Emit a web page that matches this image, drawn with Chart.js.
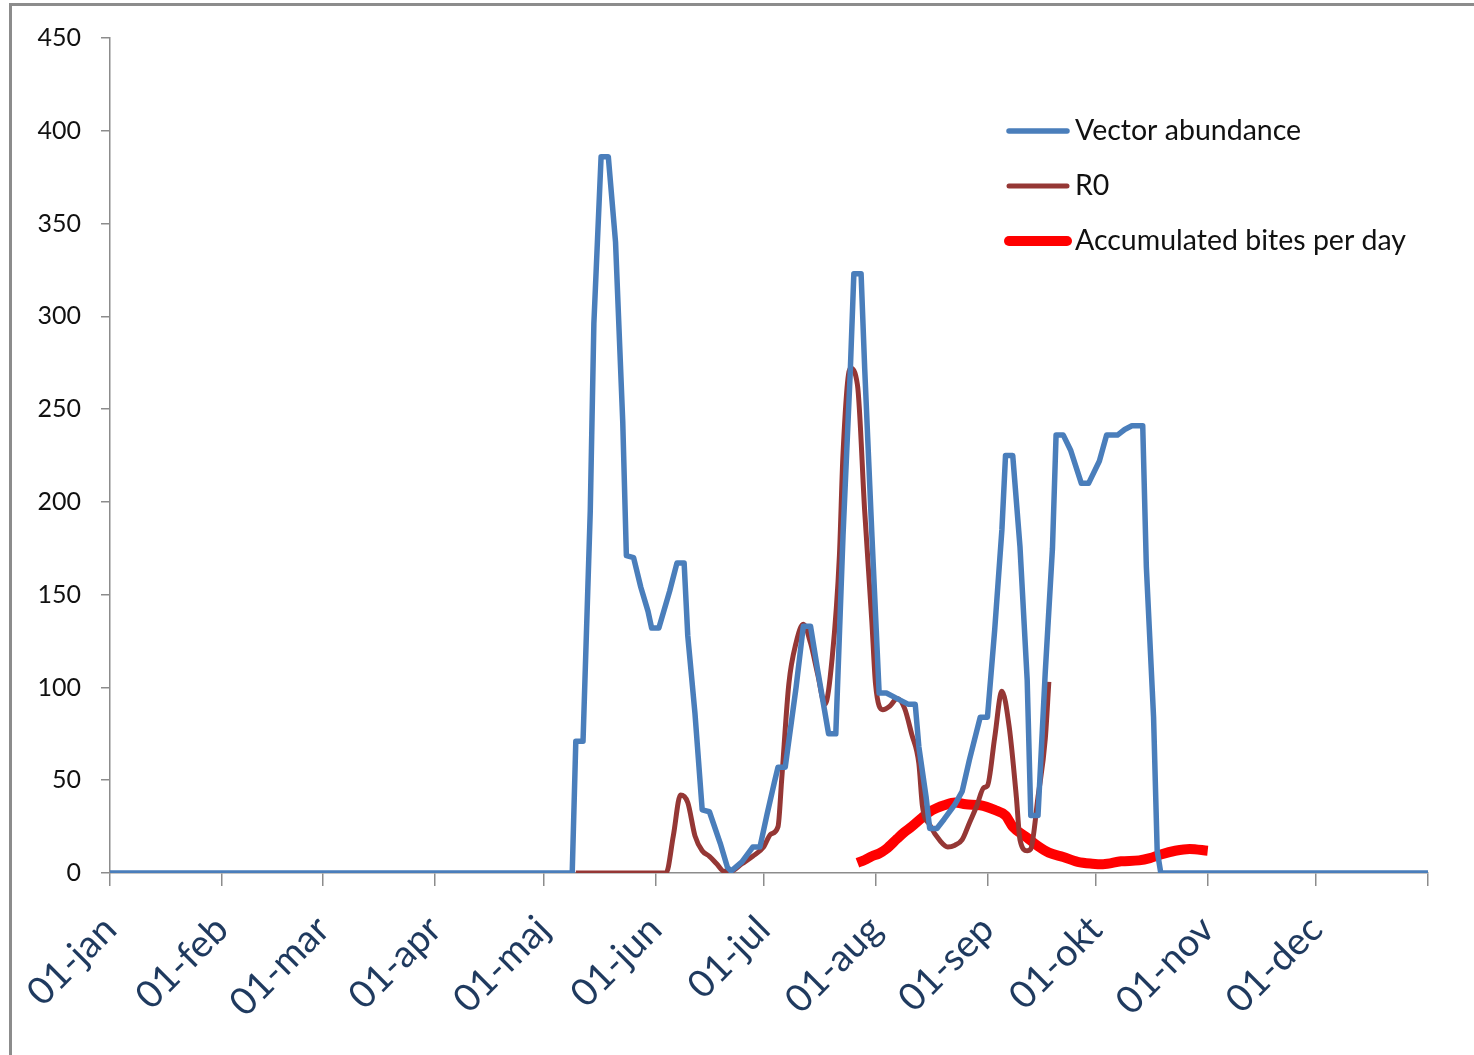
<!DOCTYPE html>
<html>
<head>
<meta charset="utf-8">
<script src="https://cdn.jsdelivr.net/npm/chart.js@4.4.1/dist/chart.umd.min.js"></script>
<style>
    html, body { margin: 0; padding: 0; background: #fff; overflow: hidden; }
    #ramme { position: absolute; left: 9px; top: 3px; width: 1490px; height: 1080px; border: 3px solid #8c8c8c; box-sizing: border-box; }
    #graf { position: absolute; left: 0; top: 0; }
</style>
</head>
<body>
<div id="ramme"></div>
<canvas id="graf" width="1474" height="1055"></canvas>
<script>
// x = day of year (0 = 01-jan)
const maanedStart = [0, 31, 59, 90, 120, 151, 181, 212, 243, 273, 304, 334, 365];
const maanedNavne = ['01-jan', '01-feb', '01-mar', '01-apr', '01-maj', '01-jun', '01-jul', '01-aug', '01-sep', '01-okt', '01-nov', '01-dec', ''];
const yTicks = [0, 50, 100, 150, 200, 250, 300, 350, 400, 450];

// Vector abundance
const vektorDage = [0, 128, 129, 131, 133, 134, 136, 138, 140, 142, 143, 145, 147, 149, 150, 152, 155, 157, 159, 160, 162, 164, 166, 169, 171, 172, 175, 178, 180, 182, 184, 185, 187, 190, 192, 194, 196, 199, 201, 203, 205, 206, 208, 209, 211, 213, 215, 218, 221, 223, 224, 226, 227, 229, 231, 234, 236, 238, 241, 243, 245, 247, 248, 250, 252, 254, 255, 257, 259, 261, 262, 264, 266, 269, 271, 274, 276, 279, 281, 283, 286, 287, 289, 290, 291, 365];
const vektorVaerdi = [0, 0, 71, 71, 195, 296, 386, 386, 340, 243, 171, 170, 154, 141, 132, 132, 152, 167, 167, 128, 86, 34, 33, 16, 3, 1, 6, 14, 14, 32, 49, 57, 57, 100, 133, 133, 109, 75, 75, 182, 270, 323, 323, 272, 182, 97, 97, 94, 91, 91, 68, 41, 24, 24, 29, 37, 44, 61, 84, 84, 131, 185, 225, 225, 176, 104, 31, 31, 108, 175, 236, 236, 228, 210, 210, 222, 236, 236, 239, 241, 241, 165, 84, 12, 0, 0];

// R0
const r0Dage = [129, 154, 156, 158, 160, 162, 164, 166, 168, 170, 172, 175, 178, 181, 183, 185, 186, 188, 190, 192, 194, 196, 198, 200, 202, 203, 205, 207, 209, 211, 212, 214, 216, 218, 220, 222, 224, 225, 227, 230, 232, 234, 236, 238, 240, 242, 243, 245, 247, 249, 251, 252, 254, 255, 257, 259, 260];
const r0Vaerdi = [0, 0, 20, 42, 38, 20, 12, 9, 5, 1, 1, 5, 9, 14, 21, 25, 50, 102, 124, 134, 124, 107, 91, 116, 171, 226, 272, 263, 195, 135, 102, 88, 90, 94, 89, 75, 59, 36, 26, 17, 14, 15, 18, 27, 36, 46, 47, 73, 98, 79, 41, 18, 12, 13, 41, 72, 103];

// Accumulated bites per day
const bidDage = [207, 209, 211, 213, 215, 218, 220, 222, 225, 227, 229, 231, 234, 237, 241, 245, 248, 250, 254, 257, 260, 264, 268, 272, 275, 280, 285, 288, 291, 295, 299, 304];
const bidVaerdi = [5.5, 7, 9, 10.5, 13, 18.5, 22, 25, 30, 33, 35, 36.5, 38, 37, 36.5, 34, 31, 25, 19, 14.5, 11, 8.6, 6, 5, 4.7, 6.3, 6.8, 8, 10, 12, 13, 12];

function tilPunkter(dage, vaerdier) {
    return dage.map((d, i) => ({ x: d, y: vaerdier[i] }));
}

const FONT = 'Lato, "Open Sans", sans-serif';

// legenden tegnes inde i plot-området (som i Excel)
const legendePlugin = {
    id: 'legendeInde',
    afterDatasetsDraw(chart) {
        const ctx = chart.ctx;
        const x0 = 1009, x1 = 1067, tekstX = 1075;
        const yPos = [131, 186, 241];
        ctx.save();
        chart.data.datasets.forEach((ds, i) => {
            ctx.beginPath();
            ctx.strokeStyle = ds.borderColor;
            ctx.lineWidth = ds.borderWidth;
            ctx.lineCap = 'round';
            ctx.moveTo(x0, yPos[i]);
            ctx.lineTo(x1, yPos[i]);
            ctx.stroke();
            ctx.fillStyle = '#111';
            ctx.font = '28.5px ' + FONT;
            ctx.textBaseline = 'middle';
            ctx.textAlign = 'left';
            ctx.fillText(ds.label, tekstX, yPos[i]);
        });
        ctx.restore();
    }
};

document.addEventListener("DOMContentLoaded", () => {
    const ctx = document.getElementById('graf').getContext('2d');
    new Chart(ctx, {
        type: 'line',
        data: {
            datasets: [
                {
                    label: 'Vector abundance',
                    data: tilPunkter(vektorDage, vektorVaerdi),
                    borderColor: '#4a7ebb',
                    borderWidth: 5.5,
                    tension: 0
                },
                {
                    label: 'R0',
                    data: tilPunkter(r0Dage, r0Vaerdi),
                    borderColor: '#953735',
                    borderWidth: 5,
                    tension: 0.3,
                    cubicInterpolationMode: 'monotone'
                },
                {
                    label: 'Accumulated bites per day',
                    data: tilPunkter(bidDage, bidVaerdi),
                    borderColor: '#ff0000',
                    borderWidth: 10,
                    tension: 0.3,
                    cubicInterpolationMode: 'monotone'
                }
            ]
        },
        options: {
            responsive: false,
            animation: false,
            devicePixelRatio: 1,
            layout: { padding: { top: 38, right: 46, left: 0, bottom: 0 } },
            elements: {
                point: { radius: 0 },
                line: { borderJoinStyle: 'round', borderCapStyle: 'butt' }
            },
            plugins: {
                legend: { display: false },
                tooltip: { enabled: false }
            },
            scales: {
                x: {
                    type: 'linear',
                    min: 0,
                    max: 365,
                    afterBuildTicks: (scale) => {
                        scale.ticks = maanedStart.map(v => ({ value: v }));
                    },
                    afterFit: (scale) => {
                        scale.height = 182;
                        scale.paddingLeft = 0;
                        scale.paddingRight = 0;
                    },
                    ticks: {
                        autoSkip: false,
                        minRotation: 45,
                        maxRotation: 45,
                        padding: 21,
                        color: '#1f3a5f',
                        font: { family: FONT, size: 38 },
                        callback: (v) => {
                            const i = maanedStart.indexOf(v);
                            return i >= 0 ? maanedNavne[i] : '';
                        }
                    },
                    grid: {
                        drawOnChartArea: false,
                        drawTicks: true,
                        tickLength: 13,
                        color: '#8c8c8c',
                        lineWidth: 1.5
                    },
                    border: { color: '#8c8c8c', width: 1.5 }
                },
                y: {
                    min: 0,
                    max: 450,
                    afterBuildTicks: (scale) => {
                        scale.ticks = yTicks.map(v => ({ value: v }));
                    },
                    afterFit: (scale) => { scale.width = 110; },
                    ticks: {
                        padding: 20,
                        color: '#111',
                        font: { family: FONT, size: 25 }
                    },
                    grid: {
                        drawOnChartArea: false,
                        drawTicks: true,
                        tickLength: 9,
                        color: '#8c8c8c',
                        lineWidth: 1.5
                    },
                    border: { color: '#8c8c8c', width: 1.5 }
                }
            }
        },
        plugins: [legendePlugin]
    });
});
</script>
</body>
</html>
